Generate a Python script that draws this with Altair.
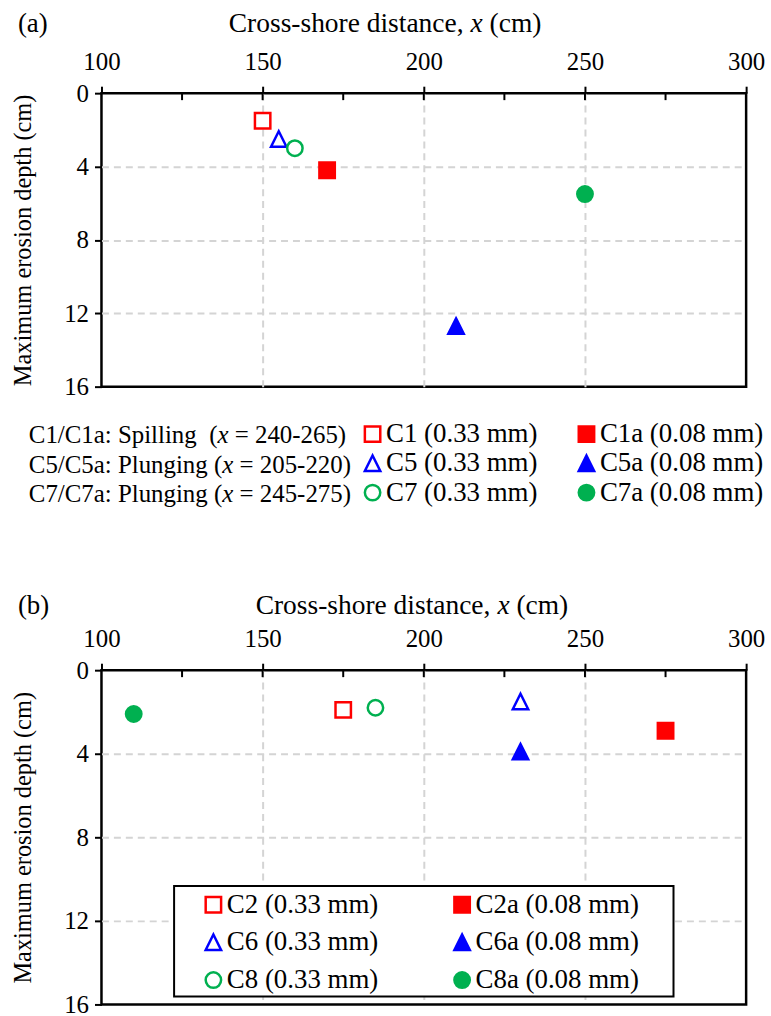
import altair as alt
import pandas as pd

FONT = "Liberation Serif"

# ---------------- data ----------------
a_series = ["C1 (0.33 mm)", "C1a (0.08 mm)", "C5 (0.33 mm)", "C5a (0.08 mm)", "C7 (0.33 mm)", "C7a (0.08 mm)"]
a_x = [150, 170, 155, 210, 160, 250]
a_y = [1.5, 4.2, 2.5, 12.7, 3.0, 5.5]

b_series = ["C2 (0.33 mm)", "C2a (0.08 mm)", "C6 (0.33 mm)", "C6a (0.08 mm)", "C8 (0.33 mm)", "C8a (0.08 mm)"]
b_x = [175, 275, 230, 230, 185, 110]
b_y = [1.9, 2.9, 1.5, 3.9, 1.8, 2.1]

x_ticks = [100, 150, 200, 250, 300]
x_inner_ticks = [125, 150, 175, 200, 225, 250, 275]
y_ticks = [0, 4, 8, 12, 16]

desc_lines = [
    ("C1/C1a: Spilling", "= 240-265)"),
    ("C5/C5a: Plunging", "= 205-220)"),
    ("C7/C7a: Plunging", "= 245-275)"),
]
# em widths (Times metrics) of the first part + gap before "("
desc_first_em = [7.252, 7.446, 7.446]

# ---------------- styles ----------------
TRI = "M0,-1L1,1L-1,1Z"
shapes = ["square", "square", TRI, TRI, "circle", "circle"]
strokes = ["#FF0000", "#FF0000", "#0000FF", "#0000FF", "#00B050", "#00B050"]
fills = ["white", "#FF0000", "white", "#0000FF", "white", "#00B050"]
sizes = [240, 240, 324, 324, 324, 324]

W = 648
HA = 295
HB = 336
GAP = 285
LEFT, TOP, RIGHT, BOTTOM = 100, 89, 23, 11
F_TICK = 25
F_TITLE = 27.6
F_LEG = 27
F_DESC = 25
F_YT = 24.5

grid_op = {"condition": {"test": "datum.value == 100 || datum.value == 300 || datum.value == 0 || datum.value == 16", "value": 0}, "value": 1}


def one():
    return pd.DataFrame({"k": [0]})


def txt(s, px, py, size, italic=False):
    return alt.Chart(pd.DataFrame({"t": [s]})).mark_text(
        font=FONT, fontSize=size, fontStyle="italic" if italic else "normal",
        align="left", baseline="middle", color="black"
    ).encode(text="t:N", x=alt.value(px), y=alt.value(py))


def title_parts(px, py):
    return [
        txt("Cross-shore distance,", px, py, F_TITLE),
        txt("x", px + 8.804 * F_TITLE, py, F_TITLE, italic=True),
        txt("(cm)", px + 9.498 * F_TITLE, py, F_TITLE),
    ]


def spacer(x1, x2, y1, y2):
    # invisible box that fixes the page extent
    return alt.Chart(one()).mark_rect(opacity=0).encode(
        x=alt.value(x1), x2=alt.value(x2), y=alt.value(y1), y2=alt.value(y2)
    )


def panel(series, xs, ys, H, legend, before, after):
    df = pd.DataFrame({"series": series, "x": xs, "y": ys})
    xscale = alt.Scale(domain=[100, 300], nice=False, zero=False)
    yscale = alt.Scale(domain=[0, 16], reverse=True, nice=False)
    xaxis = alt.Axis(orient="top", values=x_ticks, format="d", title=None,
                     labelFont=FONT, labelFontSize=F_TICK, labelColor="black",
                     labelPadding=12, labelFlush=False,
                     tickSize=7, tickColor="black", tickWidth=2,
                     domain=False, grid=True, gridColor="#D4D4D4",
                     gridDash=[7, 5], gridWidth=2, gridOpacity=grid_op)
    yaxis = alt.Axis(values=y_ticks, format="d", title="Maximum erosion depth (cm)",
                     titleFont=FONT, titleFontSize=F_YT, titleFontWeight="normal",
                     titleColor="black", titlePadding=28,
                     labelFont=FONT, labelFontSize=F_TICK, labelColor="black",
                     labelPadding=6, labelFlush=False,
                     tickSize=7, tickColor="black", tickWidth=2,
                     domain=False, grid=True, gridColor="#D4D4D4",
                     gridDash=[7, 5], gridWidth=2, gridOpacity=grid_op)
    pts = alt.Chart(df).mark_point(filled=False, opacity=1, strokeWidth=2.5).encode(
        x=alt.X("x:Q", scale=xscale, axis=xaxis),
        y=alt.Y("y:Q", scale=yscale, axis=yaxis),
        shape=alt.Shape("series:N", scale=alt.Scale(domain=series, range=shapes), legend=legend),
        stroke=alt.Stroke("series:N", scale=alt.Scale(domain=series, range=strokes), legend=legend),
        fill=alt.Fill("series:N", scale=alt.Scale(domain=series, range=fills), legend=legend),
        size=alt.Size("series:N", scale=alt.Scale(domain=series, range=sizes), legend=legend),
    )
    inner = alt.Chart(pd.DataFrame({"x": x_inner_ticks})).mark_rule(color="black", strokeWidth=2).encode(
        x=alt.X("x:Q", scale=xscale), y=alt.value(0), y2=alt.value(7)
    )
    return alt.layer(*before, inner, pts, *after).properties(width=W, height=H)


def legend_spec(lx, ly, colpad, rowpad):
    return alt.Legend(title=None, orient="none", legendX=lx, legendY=ly, columns=2,
                      direction="horizontal",
                      labelFont=FONT, labelFontSize=F_LEG, labelColor="black", labelLimit=0,
                      labelOffset=0, columnPadding=colpad, rowPadding=rowpad, padding=0,
                      symbolStrokeWidth=2.5, symbolOpacity=1)


# ---- panel (a) ----
a_texts = [txt("(a)", -84, -69, 27)] + title_parts(128, -69)
for i, (first, last) in enumerate(desc_lines):
    py = 344 + i * 29.5
    p0 = -73
    pa = p0 + desc_first_em[i] * F_DESC
    a_texts += [
        txt(first, p0, py, F_DESC),
        txt("(", pa, py, F_DESC),
        txt("x", pa + 0.333 * F_DESC, py, F_DESC, italic=True),
        txt(last, pa + 1.027 * F_DESC, py, F_DESC),
    ]
chart_a = panel(a_series, a_x, a_y, HA, legend_spec(259, 329, 35, 1.5),
                [spacer(-LEFT, W + RIGHT, -TOP, 0)], a_texts)

# ---- panel (b) ----
box = alt.Chart(one()).mark_rect(fill="white", stroke="black", strokeWidth=2).encode(
    x=alt.value(73), x2=alt.value(575), y=alt.value(217), y2=alt.value(328)
)
b_texts = [txt("(b)", -84, -64, 27)] + title_parts(155, -64)
chart_b = panel(b_series, b_x, b_y, HB, legend_spec(99, 222, 70, 10),
                [spacer(-LEFT, W + RIGHT, HB, HB + BOTTOM)], [box] + b_texts)

chart = alt.vconcat(chart_a, chart_b, spacing=GAP, bounds="flush").resolve_scale(
    shape="independent", stroke="independent", fill="independent", size="independent"
).properties(
    padding=0,
).configure(
    background="white", font=FONT
).configure_view(
    stroke="black", strokeWidth=2.5
).configure_legend(
    labelFont=FONT, labelFontSize=F_LEG, labelColor="black"
)

chart.save("out.html", embed_options={"renderer": "svg", "actions": False})
